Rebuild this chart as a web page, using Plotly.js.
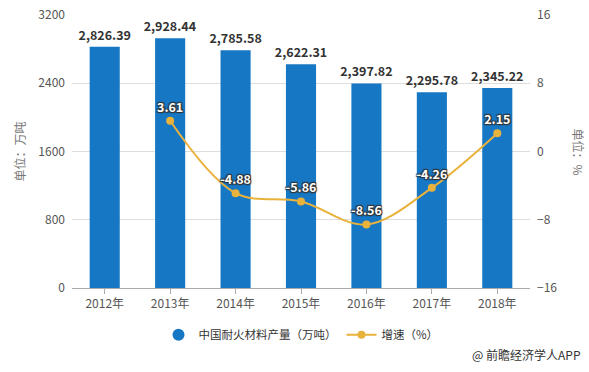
<!DOCTYPE html>
<html><head><meta charset="utf-8">
<script src="https://cdn.plot.ly/plotly-3.0.1.min.js"></script>
<style>body{margin:0;background:#fff}#c{width:589px;height:372px}</style>
</head><body><div id="c"></div>
<script>
var years = ['2012年','2013年','2014年','2015年','2016年','2017年','2018年'];
var output = [2826.39, 2928.44, 2785.58, 2622.31, 2397.82, 2295.78, 2345.22];
var growthYears = ['2013年','2014年','2015年','2016年','2017年','2018年'];
var growth = [3.61, -4.88, -5.86, -8.56, -4.26, 2.15];
var barName = '中国耐火材料产量（万吨）';
var lineName = '增速（%）';

var FONT = '"Noto Sans CJK SC", "Noto Sans", sans-serif';
var BLUE = '#1677c4', GOLD = '#e9b23c';

var traces = [
  {type:'bar', x:years, y:output, name:barName, showlegend:false,
   marker:{color:BLUE}, width:0.46,
   texttemplate:'%{y:,.2f}', textposition:'outside', cliponaxis:false, constraintext:'none',
   textfont:{family:FONT, size:12.5, color:'#333', weight:'bold'}, hoverinfo:'skip'},
  {type:'scatter', mode:'markers', x:[null], y:[null], name:barName,
   marker:{color:BLUE, size:12, symbol:'circle'}, hoverinfo:'skip'},
  {type:'scatter', mode:'lines+markers+text', x:growthYears, y:growth, yaxis:'y2', name:lineName,
   line:{color:GOLD, width:2, shape:'spline', smoothing:1}, marker:{color:GOLD, size:8},
   texttemplate:'%{y:.2f}', textposition:'top center', cliponaxis:false,
   textfont:{family:FONT, size:12.5, color:'#fff', weight:'bold',
     shadow:'1px 1px 1px #333, -1px -1px 1px #333, 1px -1px 1px #333, -1px 1px 1px #333'}, hoverinfo:'skip'}
];

var layout = {
  width:589, height:372, margin:{l:72, r:59, t:15, b:84, autoexpand:false},
  paper_bgcolor:'#fff', plot_bgcolor:'#fff',
  font:{family:FONT, size:12, color:'#555'},
  xaxis:{type:'category', showline:true, linecolor:'#aaa', ticks:'outside', tickcolor:'#aaa', ticklen:5,
    tickfont:{size:12, color:'#555'}, showgrid:false},
  yaxis:{range:[0,3200], dtick:800, showgrid:true, gridcolor:'#ddd', zeroline:false,
    tickfont:{size:12, color:'#555'}, ticks:'', ticklabelstandoff:6,
    title:{text:'单位：万吨', font:{size:12, color:'#777'}, standoff:10}},
  yaxis2:{range:[-16,16], dtick:8, overlaying:'y', side:'right', showgrid:false, zeroline:false,
    tickfont:{size:12, color:'#555'}, ticks:'', ticklabelstandoff:6},
  legend:{orientation:'h', x:0.5, xanchor:'center', yref:'container', y:0.1, yanchor:'middle',
    font:{size:11.5, color:'#333'}, itemwidth:30},
  annotations:[
    {text:'单位：%', textangle:90, xref:'paper', yref:'paper', x:1.105, y:0.5, xanchor:'center', yanchor:'middle',
     showarrow:false, font:{size:12, color:'#777'}},
    {text:'@ 前瞻经济学人APP', xref:'paper', yref:'paper', x:1.115, y:-0.245, xanchor:'right', yanchor:'middle',
     showarrow:false, font:{size:12, color:'#333'}}
  ]
};
Plotly.newPlot('c', traces, layout, {staticPlot:true, displayModeBar:false});
</script></body></html>
